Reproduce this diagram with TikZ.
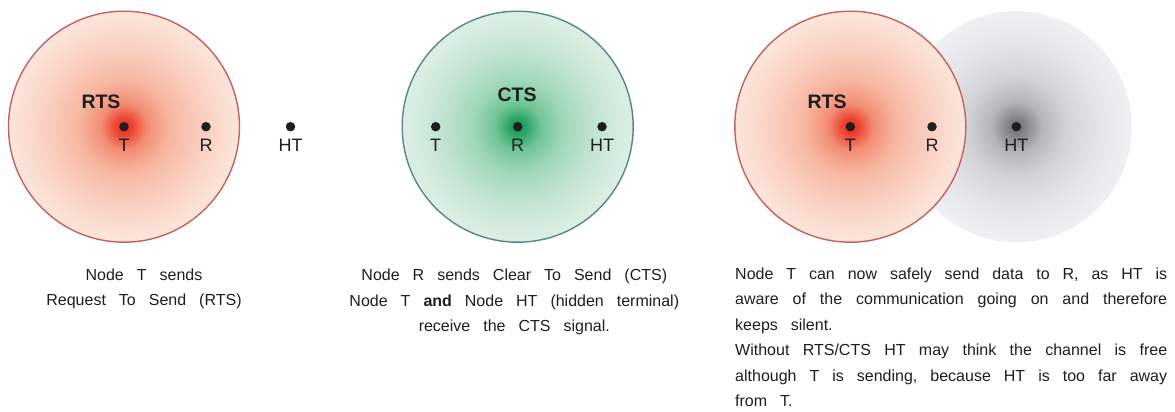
\documentclass[tikz,border=0pt]{standalone}
\usepackage{fontspec}
\setmainfont{Liberation Sans}
\newcommand\capfontsel{\fontsize{16}{19}\selectfont\spaceskip=13pt plus 20pt minus 5pt\relax}
\definecolor{ink}{RGB}{30,30,30}
\definecolor{redline}{RGB}{200,95,95}
\definecolor{greenline}{RGB}{85,135,135}
\definecolor{rc0}{RGB}{230,40,28}
\definecolor{rc1}{RGB}{236,72,52}
\definecolor{rc2}{RGB}{242,140,115}
\definecolor{rc3}{RGB}{246,182,160}
\definecolor{rc4}{RGB}{249,207,192}
\definecolor{rc5}{RGB}{252,230,220}
\definecolor{gc0}{RGB}{12,150,80}
\definecolor{gc1}{RGB}{45,166,102}
\definecolor{gc2}{RGB}{112,196,150}
\definecolor{gc3}{RGB}{160,215,185}
\definecolor{gc4}{RGB}{196,228,210}
\definecolor{gc5}{RGB}{222,239,229}
\definecolor{yc0}{RGB}{105,105,110}
\definecolor{yc1}{RGB}{132,132,137}
\definecolor{yc2}{RGB}{180,181,185}
\definecolor{yc3}{RGB}{210,211,215}
\definecolor{yc4}{RGB}{228,229,232}
\definecolor{yc5}{RGB}{239,240,242}
\pgfdeclareradialshading{redglow}{\pgfpoint{0bp}{0bp}}{color(0bp)=(rc0); color(2bp)=(rc1); color(5bp)=(rc2); color(10bp)=(rc3); color(17bp)=(rc4); color(25bp)=(rc5); color(50bp)=(rc5)}
\pgfdeclareradialshading{greenglow}{\pgfpoint{0bp}{0bp}}{color(0bp)=(gc0); color(2bp)=(gc1); color(5bp)=(gc2); color(10bp)=(gc3); color(17bp)=(gc4); color(25bp)=(gc5); color(50bp)=(gc5)}
\pgfdeclareradialshading{grayglow}{\pgfpoint{0bp}{0bp}}{color(0bp)=(yc0); color(2bp)=(yc1); color(5.5bp)=(yc2); color(11bp)=(yc3); color(18bp)=(yc4); color(25bp)=(yc5); color(50bp)=(yc5)}
\tikzset{
  rangecircle/.style={circle, minimum size=231pt, inner sep=0pt, outer sep=0pt, line width=1.4pt},
  nodedot/.style={circle, fill=ink, inner sep=0pt, minimum size=9.5pt},
  lbltext/.style={anchor=base, inner sep=0pt, text=ink, font=\fontsize{18}{21}\selectfont},
  sigtext/.style={anchor=base, inner sep=0pt, text=ink, font=\bfseries\fontsize{19.5}{22}\selectfont},
  captext/.style={anchor=base, inner sep=0pt, text=ink, font=\capfontsel},
  captextw/.style={captext, anchor=base west}
}
\begin{document}
\begin{tikzpicture}[x=1pt,y=-1pt]
\useasboundingbox (0,0) rectangle (1175,412);
% panel 1
\node[rangecircle, shading=redglow, draw=redline] (c1) at (124,126.7) {};
\node[nodedot] (t1) at (124,126.7) {};
\node[nodedot] (r1) at (206,126.7) {};
\node[nodedot] (h1) at (290.5,126.7) {};
\node[lbltext] (t1l) at (124,151.8) {T};
\node[lbltext] (r1l) at (206,151.8) {R};
\node[lbltext] (h1l) at (290.5,151.8) {HT};
\node[sigtext] (rts1) at (101,108) {RTS};
% panel 2
\node[rangecircle, shading=greenglow, draw=greenline] (c2) at (517.7,126.7) {};
\node[nodedot] (t2) at (435.7,126.7) {};
\node[nodedot] (r2) at (517.7,126.7) {};
\node[nodedot] (h2) at (602,126.7) {};
\node[lbltext] (t2l) at (435.7,151.8) {T};
\node[lbltext] (r2l) at (517.7,151.8) {R};
\node[lbltext] (h2l) at (602,151.8) {HT};
\node[sigtext] (cts2) at (517,101) {CTS};
% panel 3
\node[rangecircle, shading=grayglow] (g3) at (1016.3,126.7) {};
\node[rangecircle, shading=redglow, draw=redline] (c3) at (850.3,126.7) {};
\node[nodedot] (t3) at (850.3,126.7) {};
\node[nodedot] (r3) at (932,126.7) {};
\node[nodedot] (h3) at (1016.3,126.7) {};
\node[lbltext] (t3l) at (850.3,151.8) {T};
\node[lbltext] (r3l) at (932,151.8) {R};
\node[lbltext] (h3l) at (1016.3,151.8) {HT};
\node[sigtext] (rts3) at (827,108) {RTS};
% captions
\node[captext] (a1) at (144,280) {Node T sends};
\node[captext] (a2) at (144,305.7) {Request To Send (RTS)};
\node[captext] (b1) at (514.3,280.6) {Node R sends Clear To Send (CTS)};
\node[captext] (b2) at (514.3,306.1) {Node T \textbf{and} Node HT (hidden terminal)};
\node[captext] (b3) at (514.3,331.6) {receive the CTS signal.};
\node[captextw] (d1) at (735,279) {\makebox[432pt][s]{Node T can now safely send data to R, as HT is}};
\node[captextw] (d2) at (735,304.5) {\makebox[432pt][s]{aware of the communication going on and therefore}};
\node[captextw] (d3) at (735,330) {keeps silent.};
\node[captextw] (d4) at (735,355.5) {\makebox[432pt][s]{Without RTS/CTS HT may think the channel is free}};
\node[captextw] (d5) at (735,381) {\makebox[432pt][s]{although T is sending, because HT is too far away}};
\node[captextw] (d6) at (735,406.5) {from T.};
\end{tikzpicture}
\end{document}
